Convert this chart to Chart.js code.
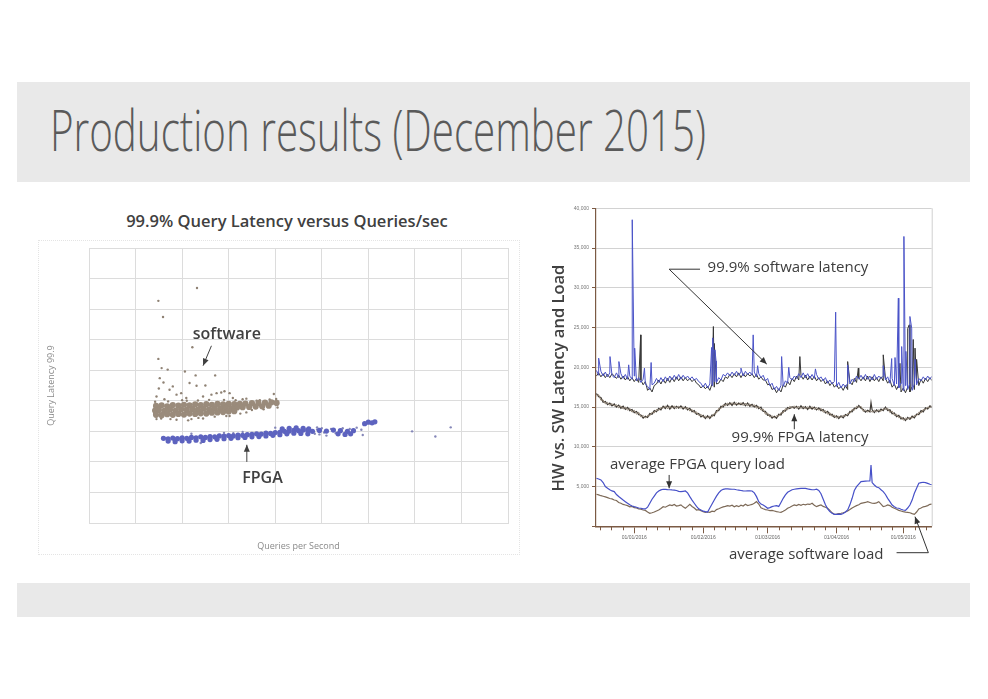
<!DOCTYPE html>
<html><head><meta charset="utf-8">
<script src="https://cdn.jsdelivr.net/npm/chart.js@4.4.1/dist/chart.umd.min.js"></script>
<style>
html,body{margin:0;padding:0;background:#fff;}
body{width:988px;height:699px;position:relative;overflow:hidden;font-family:"Open Sans",sans-serif;}
.band{position:absolute;left:17px;width:953px;background:#e9e9e9;}
#b1{top:82px;height:100px;}
#b2{top:583px;height:34px;}
#title{position:absolute;left:0;top:0;}
#ltitle{position:absolute;left:87px;top:210px;width:400px;text-align:center;font:600 16.5px/22px "Open Sans";color:#404040;}
#lframe{position:absolute;left:38px;top:240px;width:480px;height:313px;border:1px dotted #e4e4e4;}
#lwrap{position:absolute;left:30px;top:195px;width:500px;height:370px;}
#rwrap{position:absolute;left:545px;top:195px;width:410px;height:380px;}
</style></head><body>
<div class="band" id="b1"></div>
<div class="band" id="b2"></div>
<svg id="title" width="988" height="200"><text x="50" y="150.7" font-family="Open Sans" font-weight="300" font-size="57" fill="#5a5a5a" textLength="656" lengthAdjust="spacingAndGlyphs">Production results (December 2015)</text></svg>
<div id="lframe"></div>
<div id="ltitle">99.9% Query Latency versus Queries/sec</div>
<div id="lwrap"><canvas id="left"></canvas></div>
<div id="rwrap"><canvas id="right"></canvas></div>
<script>
// ---------- LEFT CHART DATA (x: queries/sec grid units, y: latency grid units) ----------
const softwareCore = [
[1.44,3.83],[1.56,3.85],[1.68,3.82],[1.8,3.86],[1.92,3.84],[2.04,3.87],[2.16,3.85],[2.28,3.88],[2.4,3.86],[2.52,3.89],[2.64,3.87],[2.76,3.9],[2.88,3.88],[3.0,3.9],[3.12,3.89],[3.24,3.9],[3.36,3.91],[3.5,3.92],[3.64,3.93],[3.78,3.94],[3.92,3.95],[4.03,3.93],
[1.42,3.68],[1.5,3.7],[1.62,3.67],[1.74,3.71],[1.86,3.68],[1.98,3.72],[2.1,3.7],[2.22,3.73],[2.34,3.71],[2.46,3.74],[2.58,3.72],[2.7,3.75],[2.82,3.74],[2.94,3.77],[3.06,3.75],[3.18,3.78],[3.3,3.79],[3.44,3.8],[3.58,3.81],[3.72,3.82],[3.86,3.84],
[1.44,3.54],[1.56,3.53],[1.68,3.56],[1.8,3.54],[1.92,3.57],[2.04,3.55],[2.16,3.58],[2.28,3.57],[2.4,3.59],[2.52,3.58],[2.64,3.61],[2.76,3.62],[2.88,3.63],[3.0,3.65],[3.12,3.66]
];
const softwareScatter = [
[1.49,7.27],[2.32,7.69],[1.59,6.74],[2.22,5.75],[1.49,5.37],[2.06,4.96],[2.29,4.83],[2.71,4.83],[1.52,4.74],[1.56,5.07],[1.69,5.02],[2.31,4.49],[3.97,4.22],
[1.45,4.14],[1.73,4.36],[1.8,4.47],[1.88,4.2],[1.98,4.25],[2.09,4.09],[2.16,4.58],[2.34,4.01],[2.45,4.14],[2.63,4.2],[2.74,4.25],[2.84,4.27],[2.91,4.31],[3.02,4.25],[3.09,4.09],[3.38,4.07],[3.67,4.02],[3.88,4.04],[4.02,4.06],
[1.45,3.4],[1.88,3.38],[2.13,3.36],[2.45,3.42],[3.02,3.5],[3.38,3.62],[1.42,3.97],[1.5,4.4],[1.6,4.6],[2.5,4.5],[3.3,4.05],[3.6,4.0],[1.62,4.05],[2.0,4.02],[2.58,4.03],[2.2,3.4],
[1.55,3.42],[1.75,3.4],[2.35,3.44],[2.7,3.48],[2.95,3.5],[3.25,3.58],[3.5,3.7],[3.75,3.72],[4.05,3.78],[1.4,3.6],[1.7,3.98],[2.1,4.0],[2.9,4.03],[3.15,4.02]
];
const fpgaCore = [
[1.6,2.77],[1.7,2.75],[1.8,2.78],[1.9,2.76],[2.0,2.79],[2.1,2.77],[2.2,2.8],[2.3,2.79],[2.4,2.82],[2.5,2.8],[2.6,2.83],[2.7,2.82],[2.8,2.85],[2.9,2.84],[3.0,2.86],[3.1,2.85],[3.2,2.88],[3.3,2.87],[3.4,2.89],[3.5,2.9],[3.6,2.92],[3.7,2.91],[3.8,2.94],[3.9,2.93],[4.0,2.96],[4.1,2.97],[4.2,3.0],[4.3,3.01],[4.4,3.03],[4.5,3.02],[4.6,3.04],[4.7,3.03],[4.8,3.0],[4.95,3.03],[5.1,3.01],[5.25,3.04],[5.4,3.02],[5.55,3.0],[5.68,3.02],
[1.7,2.68],[1.85,2.66],[2.0,2.69],[2.15,2.68],[2.3,2.71],[2.45,2.7],[2.6,2.73],[2.75,2.74],[2.9,2.76],[3.05,2.77],[3.2,2.79],[3.35,2.8],[3.5,2.82],[3.65,2.83],[3.8,2.85],[3.95,2.87],[4.1,2.89],[4.25,2.92],[4.4,2.94],[4.55,2.93],[4.7,2.92],[5.35,2.92],[5.5,2.9],[5.62,2.92],
[4.15,3.08],[4.3,3.1],[4.45,3.11],[4.6,3.1],[4.72,3.08],
[5.92,3.25],[6.0,3.3],[6.08,3.28],[6.14,3.31]
];
const fpgaScatter = [
[6.94,3.0],[7.44,2.83],[7.77,3.13],[5.85,3.05],[5.88,2.88],[4.0,3.12],[2.2,2.92],[2.9,2.95],[3.3,2.98],[4.9,3.13],[5.1,2.86],[4.95,2.9],[5.75,3.12],[1.58,2.8],[2.4,2.62],[3.1,2.94],
[4.85,2.92],[5.0,3.1],[5.2,3.08],[5.3,2.94],[5.45,3.1],[5.6,3.08],[5.05,2.96],[4.9,3.06]
];

// ---------- RIGHT CHART DATA (x: day offset from 01/01/2016, one value per day) ----------
const startDay = -17;
const monthStarts = [0, 31, 60, 91, 121];
const monthLabels = ['01/01/2016','01/02/2016','01/03/2016','01/04/2016','01/05/2016'];
const swLatencyBlue = [
19600,19000,19500,18900,19400,18800,19300,19000,18700,19300,
18700,19200,18600,19100,18500,18900,18500,18900,18300,18700,
18100,18500,17900,17600,17200,17800,18000,18600,18100,18700,
18200,18800,18300,18900,18400,19000,18500,19100,18500,19000,
18600,18900,18500,18800,18400,18600,18200,18000,17500,18000,
17400,17900,17700,18200,18100,18700,18400,19100,18900,19300,
18900,19400,19000,19500,19000,19400,18900,19500,19100,19400,
19000,19400,18800,19200,18700,19000,18300,18600,17700,18000,
17200,17600,17100,17700,17600,18300,18000,18700,18400,18900,
18600,19200,18700,19300,18700,19200,18600,19100,18600,19100,
18500,18800,18300,18700,18000,18400,17900,18200,17600,18100,
17400,17900,17500,18000,17900,18500,18200,18900,18500,19000,
18500,19100,18500,18900,18400,19100,18500,18900,18600,18900,
18400,18800,18000,18600,17700,17900,17400,18000,17100,17700,
17200,18000,17100,17900,17800,18600,18300,18800,18400,18900,
18500,18900];
const swBlueSpikeDays = [-16.0,-10.9,-6.9,-2.5,-0.9,0.2,4.6,7.6,34.8,35.3,35.8,36.3,36.8,48.0,53.5,55.5,66.3,69.5,81.5,90.6,96.0,112.0,115.8,117.3,118.8,120.3,121.3,122.2,124.0,124.8,126.3];
const swBlueSpikeVals = [21150,21350,20720,20310,38560,22410,19900,20600,22500,23700,21500,22200,20800,19900,24080,20200,21350,20000,19800,26940,20300,20200,21100,21230,28700,22610,36460,22000,26390,24930,21000];
const swLatencyDark = [
18900,19300,18800,19200,18700,19100,18700,19200,18900,18600,
19000,18500,18900,18400,18800,18300,18700,18200,18600,18100,
18400,17800,18200,17100,17400,16900,17700,17900,18400,17900,
18500,18000,18600,18100,18700,18200,18800,18300,18800,18300,
18700,18300,18600,18200,18500,18000,17800,17400,17700,17300,
17600,17100,17900,17500,17900,18000,18500,18200,18800,18600,
19100,18700,19200,18800,19300,18700,19200,18800,19200,18900,
19200,18700,19100,18500,18800,18400,18400,17800,17900,17200,
17400,16800,17300,16900,17800,17500,18200,17800,18600,18200,
18900,18400,19000,18500,19000,18400,18900,18400,18900,18300,
18700,18200,18500,17900,18300,17700,18100,17500,17800,17300,
17600,17100,17700,17200,18200,17800,18600,18100,18700,18300,
18800,18300,18900,18200,18800,18300,18700,18200,18800,18300,
18600,18000,18400,17500,17900,17200,17800,16900,17400,16800,
17500,16900,17600,17200,18100,17700,18500,18000,18600,18200,
18700,18300];
const swDarkSpikeDays = [2.9,35.6,36.0,74.5,96.0,100.8,112.0,119.5,123.0,123.7,125.5,126.3,127.0];
const swDarkSpikeVals = [24080,25130,23000,21350,20720,19900,21570,20500,24880,25340,23500,22410,21000];
const fpgaLatency = [
16700,16300,16200,15600,15700,15300,15500,15150,15400,15000,
15250,14850,15100,14700,14950,14550,14700,14300,14450,14050,
14000,13600,13850,13700,14200,14100,14550,14400,14850,14650,
15100,14800,15200,14750,15150,14800,15100,14850,15150,14750,
15050,14650,14850,14400,14550,14100,14200,13750,13950,13550,
13900,13550,14000,13900,14550,14550,15100,15000,15450,15200,
15550,15200,15600,15250,15500,15300,15550,15150,15500,15100,
15350,15000,15200,14800,15000,14450,14450,13950,14000,13600,
13850,13600,14100,14000,14550,14500,14950,14800,15050,14850,
15100,14750,15150,14800,15050,14700,15100,14750,15000,14650,
14900,14550,14700,14250,14450,14000,14100,13700,13900,13550,
13900,13650,14050,13900,14450,14400,14850,14800,15200,14850,
14700,14350,14600,14400,14650,14300,14650,14400,14750,14550,
15000,14550,14650,14150,14250,13800,13950,13500,13650,13300,
13700,13450,13850,13650,14100,14050,14550,14400,14900,14750,
15150,14950];
const fpgaSpikeDays = [106.5];
const fpgaSpikeVals = [15560];
const fpgaLatencyB = [
16400,16550,15850,15900,15400,15600,15200,15450,15100,15300,
14900,15150,14750,15000,14600,14850,14350,14600,14100,14350,
13750,13950,13600,13950,13900,14350,14250,14700,14550,14950,
14850,15150,14800,15100,14850,15150,14800,15100,14850,15050,
14750,14950,14500,14700,14250,14400,13950,14100,13700,13850,
13650,13850,13750,14200,14250,14850,14800,15300,15150,15500,
15250,15550,15250,15550,15250,15550,15200,15500,15150,15400,
15050,15300,14850,15100,14600,14750,14100,14250,13750,13900,
13650,13900,13850,14300,14250,14800,14650,15100,14850,15150,
14850,15100,14800,15100,14750,15050,14750,15050,14700,14950,
14600,14850,14350,14550,14100,14300,13800,14000,13600,13850,
13700,13950,13850,14200,14200,14700,14600,15100,14950,15100,
14450,14650,14350,14600,14350,14600,14400,14650,14450,14800,
14700,14850,14300,14500,13950,14100,13650,13800,13350,13600,
13450,13700,13600,13950,13900,14350,14250,14700,14650,15000,
14900,15200];
const fpgaLoad = [
6040,5950,5830,5500,5000,4800,4600,4450,4360,4000,
3750,3520,3300,3100,2890,2700,2550,2470,2400,2300,
2270,2200,2180,2400,2900,3400,3800,4200,4440,4580,
4660,4650,4620,4600,4570,4560,4500,4400,4360,4400,
4440,4200,3730,3300,2900,2500,2200,2050,1900,1840,
1800,2300,2800,3300,3800,4200,4500,4650,4700,4700,
4680,4660,4660,4600,4550,4500,4450,4440,4450,4460,
4440,4200,3730,3100,2800,2680,2500,2270,2350,2470,
2550,2600,2500,3000,3520,3950,4280,4450,4600,4660,
4700,4740,4780,4780,4760,4700,4650,4600,4600,4660,
4500,4100,3400,2700,2200,1840,1650,1510,1500,1520,
1510,1600,1800,2050,2700,3520,4500,4990,5300,5620,
5650,5680,5700,5700,5500,5200,4950,4860,4600,4360,
4000,3520,3100,2680,2450,2300,2270,2150,2050,2000,
2300,2680,3300,4150,4800,5410,5500,5540,5500,5400,
5290,5250];
const fpgaLoadSpikeDays = [106.5];
const fpgaLoadSpikeVals = [7720];
const swLoad = [
4030,3950,3850,3780,3700,3600,3500,3450,3310,3250,
3000,2900,2750,2680,2600,2450,2500,2340,2300,2200,
2150,2050,2000,1800,1640,1700,1800,1930,2050,2250,
2470,2400,2550,2680,2600,2750,2550,2600,2700,2450,
2270,2500,2770,2500,2300,2050,2100,1950,1850,1760,
1800,1750,1900,1840,2100,2200,2340,2450,2500,2600,
2550,2650,2450,2600,2470,2650,2550,2770,2600,2680,
2750,2900,3100,2800,2340,2200,2100,2050,1980,2000,
1930,1850,1800,1760,1900,2050,2270,2400,2550,2680,
2600,2750,2650,2770,2700,2800,2750,2890,2650,2470,
2600,2680,2500,2400,2270,2000,1700,1510,1550,1600,
1640,1700,1800,1930,2100,2300,2470,2600,2700,2890,
2950,3000,3100,3000,2900,2890,2950,3100,2800,2470,
2550,2680,2600,2400,2270,2150,2000,1930,1850,1780,
1760,1700,1600,1510,1800,2180,2300,2450,2500,2600,
2770,2800];

// ---------- helpers ----------
const pairs = arr => arr.map(p => ({x: p[0], y: p[1]}));
function series(values, spikeDays, spikeVals) {
  const pts = values.map((v, i) => ({x: startDay + i, y: v}));
  (spikeDays || []).forEach((d, i) => pts.push({x: d, y: spikeVals[i]}));
  return pts.sort((a, b) => a.x - b.x);
}
function annotations(id, items) {
  return {
    id,
    afterDraw(chart) {
      const {ctx} = chart, xs = chart.scales.x, ys = chart.scales.y;
      const px = v => xs.getPixelForValue(v), py = v => ys.getPixelForValue(v);
      ctx.save();
      for (const it of items) {
        ctx.fillStyle = it.color; ctx.strokeStyle = it.color;
        if (it.text) {
          ctx.save();
          ctx.font = it.font; ctx.textAlign = it.align || 'left'; ctx.textBaseline = 'middle';
          ctx.translate(px(it.x), py(it.y));
          if (it.rotate) ctx.rotate(it.rotate);
          ctx.fillText(it.text, 0, 0);
          ctx.restore();
        } else if (it.path) {
          ctx.lineWidth = it.width || 1;
          ctx.beginPath();
          it.path.forEach((p, i) => { const X = px(p[0]), Y = py(p[1]); if (i) ctx.lineTo(X, Y); else ctx.moveTo(X, Y); });
          ctx.stroke();
          const n = it.path.length;
          const ax = px(it.path[n-2][0]), ay = py(it.path[n-2][1]), bx = px(it.path[n-1][0]), by = py(it.path[n-1][1]);
          const a = Math.atan2(by - ay, bx - ax), L = 7, W = 3;
          ctx.beginPath(); ctx.moveTo(bx, by);
          ctx.lineTo(bx - L*Math.cos(a) + W*Math.sin(a), by - L*Math.sin(a) - W*Math.cos(a));
          ctx.lineTo(bx - L*Math.cos(a) - W*Math.sin(a), by - L*Math.sin(a) + W*Math.cos(a));
          ctx.closePath(); ctx.fill();
        }
      }
      ctx.restore();
    }
  };
}

// ---------- LEFT CHART ----------
const gridGrey = '#dcdcdc';
new Chart(document.getElementById('left'), {
  type: 'scatter',
  data: {datasets: [
    {label: 'software', data: pairs(softwareCore), backgroundColor: '#9a8b7b', borderWidth: 0, pointRadius: 3.1},
    {label: 'software (outliers)', data: pairs(softwareScatter), backgroundColor: '#8f8274', borderWidth: 0, pointRadius: 1.2},
    {label: 'FPGA', data: pairs(fpgaCore), backgroundColor: '#5d63bf', borderWidth: 0, pointRadius: 2.6},
    {label: 'FPGA (outliers)', data: pairs(fpgaScatter), backgroundColor: '#8587b8', borderWidth: 0, pointRadius: 1.2}
  ]},
  options: {
    responsive: true, maintainAspectRatio: false, animation: false,
    layout: {padding: {top: 53, right: 22}},
    plugins: {legend: {display: false}, tooltip: {enabled: false}},
    scales: {
      x: {type: 'linear', min: 0, max: 9, ticks: {display: false, stepSize: 1},
        grid: {color: gridGrey, drawTicks: false}, border: {color: gridGrey},
        title: {display: true, text: 'Queries per Second', color: '#8a8a8a', font: {family: 'Open Sans', size: 9}, padding: {top: 4, bottom: 13}},
        afterFit(s) { s.height = 42; }},
      y: {type: 'linear', min: 0, max: 9, ticks: {display: false, stepSize: 1},
        grid: {color: gridGrey, drawTicks: false}, border: {color: gridGrey},
        title: {display: true, text: 'Query Latency 99.9', color: '#8a8a8a', font: {family: 'Open Sans', size: 9}, padding: {top: 16}},
        afterFit(s) { s.width = 59; }}
    }
  },
  plugins: [annotations('leftNotes', [
    {text: 'software', x: 2.23, y: 6.16, font: '600 16px "Open Sans"', color: '#404040'},
    {path: [[2.63, 5.8], [2.45, 5.15]], color: '#404040'},
    {text: 'FPGA', x: 3.29, y: 1.47, font: '600 16px "Open Sans"', color: '#404040'},
    {path: [[3.39, 2.0], [3.39, 2.56]], color: '#404040'}
  ])]
});

// ---------- RIGHT CHART ----------
const brown = '#7b5a44';
const minorTicks = {
  id: 'minorTicks',
  afterDraw(chart) {
    const {ctx, chartArea} = chart, xs = chart.scales.x;
    const bounds = [-31].concat(monthStarts, [152]);
    ctx.save(); ctx.strokeStyle = brown; ctx.lineWidth = 1;
    for (let i = 0; i < bounds.length - 1; i++) {
      for (let k = 1; k < 6; k++) {
        const d = bounds[i] + (bounds[i+1] - bounds[i]) * k / 6;
        if (d <= xs.min || d >= xs.max) continue;
        const X = Math.round(xs.getPixelForValue(d)) + 0.5;
        ctx.beginPath(); ctx.moveTo(X, xs.top); ctx.lineTo(X, xs.top + 4); ctx.stroke();
      }
    }
    ctx.strokeStyle = '#d0d0d0';
    ctx.beginPath(); ctx.moveTo(chartArea.right + 0.5, chartArea.top); ctx.lineTo(chartArea.right + 0.5, chartArea.bottom); ctx.stroke();
    ctx.restore();
  }
};
new Chart(document.getElementById('right'), {
  type: 'line',
  data: {datasets: [
    {label: '99.9% software latency', data: series(swLatencyBlue, swBlueSpikeDays, swBlueSpikeVals), borderColor: '#4b54c8', borderWidth: 1, order: 0},
    {label: '99.9% software latency (2)', data: series(swLatencyDark, swDarkSpikeDays, swDarkSpikeVals), borderColor: '#363636', borderWidth: 1, order: 1},
    {label: '99.9% FPGA latency', data: series(fpgaLatency, fpgaSpikeDays, fpgaSpikeVals), borderColor: '#3f3a35', borderWidth: 1.2, order: 3},
    {label: '99.9% FPGA latency (2)', data: series(fpgaLatencyB), borderColor: '#8f8170', borderWidth: 1, order: 2},
    {label: 'average FPGA query load', data: series(fpgaLoad, fpgaLoadSpikeDays, fpgaLoadSpikeVals), borderColor: '#4650c8', borderWidth: 1.2, order: 4},
    {label: 'average software load', data: series(swLoad), borderColor: '#7d6a58', borderWidth: 1.2, order: 5}
  ]},
  options: {
    responsive: true, maintainAspectRatio: false, animation: false,
    elements: {point: {radius: 0}, line: {tension: 0}},
    layout: {padding: {top: 13.3, right: 23.3}},
    plugins: {legend: {display: false}, tooltip: {enabled: false}},
    scales: {
      x: {type: 'linear', min: -17.2, max: 133.8,
        afterBuildTicks(s) { s.ticks = monthStarts.map(v => ({value: v})); },
        ticks: {autoSkip: false, maxRotation: 0, padding: 1, color: '#666', font: {family: 'Liberation Sans', size: 5},
          callback: v => monthLabels[monthStarts.indexOf(v)] || ''},
        grid: {drawOnChartArea: false, drawTicks: true, tickLength: 7, tickColor: brown},
        border: {color: brown, width: 1.5},
        afterFit(s) { s.height = 48.7; }},
      y: {type: 'linear', min: 0, max: 40000,
        ticks: {stepSize: 5000, padding: 3, color: '#777', font: {family: 'Liberation Sans', size: 5},
          callback: v => v === 0 ? '' : v.toLocaleString('en-US')},
        grid: {color: '#d2d2d2', tickColor: brown, tickLength: 4},
        border: {color: brown, width: 1.2},
        afterFit(s) { s.width = 51; }}
    }
  },
  plugins: [minorTicks, annotations('rightNotes', [
    {text: 'HW vs. SW Latency and Load', x: -33.8, y: 18650, align: 'center', rotate: -Math.PI / 2, font: '600 16.5px "Open Sans"', color: '#404040'},
    {text: '99.9% software latency', x: 33.0, y: 32560, font: '15px "Open Sans"', color: '#3c3c3c'},
    {path: [[29.6, 32340], [15.7, 32340], [59.6, 20400]], color: '#333'},
    {text: '99.9% FPGA latency', x: 43.8, y: 11080, font: '15px "Open Sans"', color: '#3c3c3c'},
    {path: [[72.0, 12210], [72.0, 14100]], color: '#333'},
    {text: 'average FPGA query load', x: -10.9, y: 7720, font: '15px "Open Sans"', color: '#3c3c3c'},
    {path: [[15.7, 6460], [15.7, 4780]], color: '#333'},
    {text: 'average software load', x: 42.6, y: -3610, font: '15px "Open Sans"', color: '#3c3c3c'},
    {path: [[118, -3320], [132.3, -3320], [126.3, 1210]], color: '#333'}
  ])]
});
</script>
</body></html>
